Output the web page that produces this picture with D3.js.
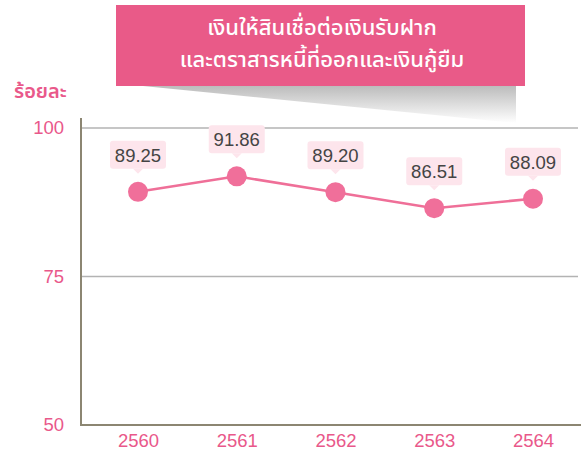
<!DOCTYPE html>
<meta charset="utf-8" />
<script src="https://d3js.org/d3.v7.min.js"></script>
<body style="margin: 0; background-color: #ffffff">
  <div id="chart"></div>
  <script>
    var years = ["2560", "2561", "2562", "2563", "2564"];
    var values = [89.25, 91.86, 89.2, 86.51, 88.09];
    var yTicks = [50, 75, 100];
    var titleLines = ["เงินให้สินเชื่อต่อเงินรับฝาก", "และตราสารหนี้ที่ออกและเงินกู้ยืม"];
    var unitLabel = "ร้อยละ";

    var width = 581,
      height = 457;
    var pink = "#e9588a";
    var thaiFont = "'Noto Sans Thai', 'Noto Sans', sans-serif";
    var numFont = "'Liberation Sans', Arial, sans-serif";

    var svg = d3
      .select("#chart")
      .append("svg")
      .attr("width", width)
      .attr("height", height);

    // shadow under the banner
    var defs = svg.append("defs");
    var grad = defs
      .append("linearGradient")
      .attr("id", "shade")
      .attr("x1", 0)
      .attr("y1", 0)
      .attr("x2", 0)
      .attr("y2", 1);
    grad.append("stop").attr("offset", "0%").attr("stop-color", "#bcbcbc");
    grad.append("stop").attr("offset", "100%").attr("stop-color", "#ffffff");

    svg
      .append("path")
      .attr("d", "M143,86 L516,86 L516,123 Z")
      .attr("fill", "url(#shade)");

    // banner
    svg
      .append("rect")
      .attr("x", 116)
      .attr("y", 5)
      .attr("width", 409)
      .attr("height", 81)
      .attr("fill", "#e95a88");

    svg
      .selectAll(".title")
      .data(titleLines)
      .enter()
      .append("text")
      .attr("class", "title")
      .attr("x", 322)
      .attr("y", function (d, i) {
        return 35 + i * 32;
      })
      .attr("text-anchor", "middle")
      .style("font-family", thaiFont)
      .style("font-size", "22px")
      .style("font-weight", "500")
      .style("fill", "#ffffff")
      .text(function (d) {
        return d;
      });

    svg
      .append("text")
      .attr("x", 14)
      .attr("y", 98)
      .style("font-family", thaiFont)
      .style("font-size", "20px")
      .style("font-weight", "600")
      .style("fill", pink)
      .text(unitLabel);

    var x = d3.scalePoint().domain(years).range([138, 533]);
    var y = d3.scaleLinear().domain([50, 100]).range([425, 128]);

    // gridlines
    svg
      .selectAll(".grid")
      .data(yTicks.filter(function (d) { return d > 50; }))
      .enter()
      .append("line")
      .attr("x1", 81)
      .attr("x2", 578)
      .attr("y1", function (d) { return y(d); })
      .attr("y2", function (d) { return y(d); })
      .attr("stroke", "#b3b3b3")
      .attr("stroke-width", 1.5);

    // y axis
    var yAxis = svg
      .append("g")
      .attr("transform", "translate(81,0)")
      .call(d3.axisLeft(y).tickValues(yTicks).tickSize(0).tickPadding(17));
    yAxis.select(".domain").remove();
    yAxis
      .selectAll("text")
      .style("font-family", numFont)
      .style("font-size", "18.5px")
      .style("fill", pink);

    svg
      .append("line")
      .attr("x1", 81)
      .attr("x2", 81)
      .attr("y1", 118)
      .attr("y2", 425)
      .attr("stroke", "#8c8672")
      .attr("stroke-width", 2);

    // x axis
    var xAxis = svg
      .append("g")
      .attr("transform", "translate(0,425)")
      .call(d3.axisBottom(x).tickSize(0).tickPadding(9));
    xAxis.select(".domain").remove();
    xAxis
      .selectAll("text")
      .style("font-family", numFont)
      .style("font-size", "18.5px")
      .style("fill", pink);

    svg
      .append("line")
      .attr("x1", 80)
      .attr("x2", 581)
      .attr("y1", 425)
      .attr("y2", 425)
      .attr("stroke", "#8c8672")
      .attr("stroke-width", 2);

    var data = years.map(function (d, i) {
      return { year: d, value: values[i] };
    });

    var line = d3
      .line()
      .x(function (d) { return x(d.year); })
      .y(function (d) { return y(d.value); });

    svg
      .append("path")
      .datum(data)
      .attr("d", line)
      .attr("fill", "none")
      .attr("stroke", "#ef6f98")
      .attr("stroke-width", 2.5);

    svg
      .selectAll(".dot")
      .data(data)
      .enter()
      .append("circle")
      .attr("cx", function (d) { return x(d.year); })
      .attr("cy", function (d) { return y(d.value); })
      .attr("r", 10)
      .attr("fill", "#f06f9a");

    // value callouts
    var tag = svg
      .selectAll(".tag")
      .data(data)
      .enter()
      .append("g")
      .attr("transform", function (d) {
        return "translate(" + x(d.year) + "," + y(d.value) + ")";
      });

    tag
      .append("rect")
      .attr("x", -28)
      .attr("y", -51)
      .attr("width", 56)
      .attr("height", 28)
      .attr("rx", 3)
      .attr("fill", "#fde5ec");

    tag
      .append("path")
      .attr("d", "M-5,-23 L0,-18 L5,-23 Z")
      .attr("fill", "#fde5ec");

    tag
      .append("text")
      .attr("y", -30)
      .attr("text-anchor", "middle")
      .style("font-family", numFont)
      .style("font-size", "18.5px")
      .style("fill", "#444444")
      .text(function (d) {
        return d.value.toFixed(2);
      });
  </script>
</body>
